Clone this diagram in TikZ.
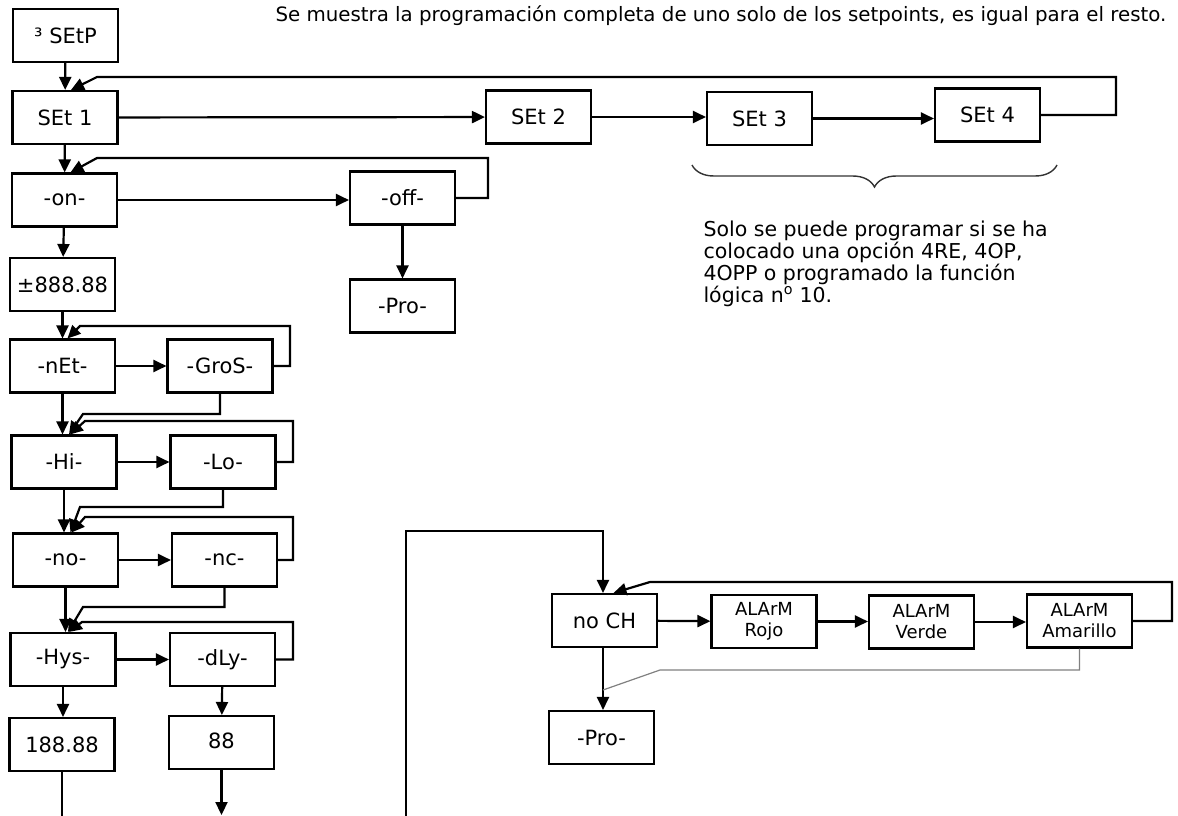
\documentclass[tikz,border=0pt]{standalone}
\usepackage{fontspec}
\setmainfont{DejaVu Sans}
\usetikzlibrary{arrows.meta,positioning,decorations.pathreplacing}

\begin{document}
\begin{tikzpicture}[x=1pt,y=-1pt,
  disp/.style={draw,line width=2.1pt,minimum width=105pt,minimum height=53pt,inner sep=0pt,font=\fontsize{21}{23}\selectfont},
  alarm/.style={disp,align=center,font=\fontsize{18}{21}\selectfont},
  arr/.style={line width=2.2pt,-{Triangle[length=13pt,width=12pt]}},
  link/.style={line width=2.2pt},
]
  \useasboundingbox (0,0) rectangle (1178,816);

  \node[anchor=west,font=\fontsize{19.8}{22}\selectfont] (cap) at (272,16) {Se muestra la programación completa de uno solo de los setpoints, es igual para el resto.};

  \node[disp] (setp) at (65.5,35.5) {³ SEtP};
  \node[disp] (set1) at (65,117.5) {SEt 1};
  \node[disp] (set2) at (538.5,117) {SEt 2};
  \node[disp] (set3) at (759.5,118.5) {SEt 3};
  \node[disp] (set4) at (987.5,115) {SEt 4};
  \node[disp] (on) at (64.5,200) {-on-};
  \node[disp] (off) at (402.5,198) {-off-};
  \node[disp] (proA) at (402.5,306) {-Pro-};
  \node[disp] (val) at (62.5,284.5) {±888.88};
  \node[disp] (net) at (62.5,366) {-nEt-};
  \node[disp] (gros) at (220,366) {-GroS-};
  \node[disp] (hi) at (64,462) {-Hi-};
  \node[disp] (lo) at (223,462) {-Lo-};
  \node[disp] (no) at (65.5,560) {-no-};
  \node[disp] (nc) at (224.5,560) {-nc-};
  \node[disp] (hys) at (63,659.5) {-Hys-};
  \node[disp] (dly) at (222.5,659.5) {-dLy-};
  \node[disp] (hval) at (62,744.5) {188.88};
  \node[disp] (dval) at (221.5,742.5) {\raisebox{4pt}{88}};

  \node[disp] (noch) at (604.5,620.5) {no CH};
  \node[alarm] (rojo) at (764,621.5) {ALArM\\Rojo};
  \node[alarm] (verde) at (921.5,622) {ALArM\\Verde};
  \node[alarm] (amar) at (1079.5,621) {ALArM\\Amarillo};
  \node[disp] (proB) at (601.5,737.5) {-Pro-};

  \node[anchor=north west,align=left,font=\fontsize{20.5}{22}\selectfont] (note) at (700,217) {Solo se puede programar si se ha\\colocado una opción 4RE, 4OP,\\4OPP o programado la función\\lógica n\textsuperscript{o} 10.};

  \draw[decorate,decoration={brace,mirror,amplitude=22pt},line width=1.4pt,black!80] (692,165) -- (1057,165);

  \coordinate (hend) at (62,818);
  \coordinate (dend) at (221.5,815);
  \coordinate (lstart) at (406,818);
  \coordinate (join) at (603,690);

  \draw[arr] (setp) -- (set1);
  \draw[arr] (set1) -- (set2);
  \draw[arr] (set2.east) -- (set2.east -| set3.west);
  \draw[arr] (set3.east) -- (set3.east -| set4.west);
  \draw[arr] (set4.east) -| (1116,77) -- (97,77) -- ([xshift=6pt]set1.north);
  \draw[arr] (set1) -- (on);
  \draw[arr] (on.east) -- (on.east -| off.west);
  \draw[arr] (off.east) -| (488,158) -- (97,158) -- ([xshift=6pt]on.north);
  \draw[arr] (off) -- (proA);
  \draw[arr] (on) -- (val);
  \draw[arr] (val) -- (net);
  \draw[arr] (net) -- (gros);
  \draw[arr] (gros.east) -| (290,326) -- (80,326) -- ([xshift=5pt]net.north);
  \draw[arr] (net.south) -- (net.south |- hi.north);
  \draw[arr] (gros.south) |- (83,414) -- ([xshift=5pt]hi.north);
  \draw[arr] (hi) -- (lo);
  \draw[arr] (lo.east) -| (293,421) -- (85,421) -- ([xshift=6pt]hi.north);
  \draw[arr] (hi.south) -- (hi.south |- no.north);
  \draw[arr] (lo.south) |- (80,507) -- ([xshift=5pt]no.north);
  \draw[arr] (no) -- (nc);
  \draw[arr] (nc.east) -| (293,517) -- (85,517) -- ([xshift=6pt]no.north);
  \draw[arr] (no.south) -- (no.south |- hys.north);
  \draw[arr] (nc.south) |- (83,607) -- ([xshift=5pt]hys.north);
  \draw[arr] (hys) -- (dly);
  \draw[arr] (dly.east) -| (293,622) -- (82,622) -- ([xshift=6pt]hys.north);
  \draw[arr] (hys.south) -- (hys.south |- hval.north);
  \draw[arr] (dly) -- (dval);
  \draw[link] (hval.south) -- (hend);
  \draw[arr] (dval.south) -- (dend);

  \draw[arr] (lstart) |- (603,531) -- ([xshift=-1.5pt]noch.north);
  \draw[arr] (noch) -- (rojo);
  \draw[arr] (rojo.east) -- (rojo.east -| verde.west);
  \draw[arr] (verde.east) -- (verde.east -| amar.west);
  \draw[arr] (amar.east) -| (1172,582) -- (650,582) -- ([xshift=9pt]noch.north);
  \draw[arr] ([xshift=-1.5pt]noch.south) -- ([xshift=1.5pt]proB.north);
  \draw[gray,line width=1.2pt] (amar.south) |- (660,670) -- (join);
\end{tikzpicture}
\end{document}
